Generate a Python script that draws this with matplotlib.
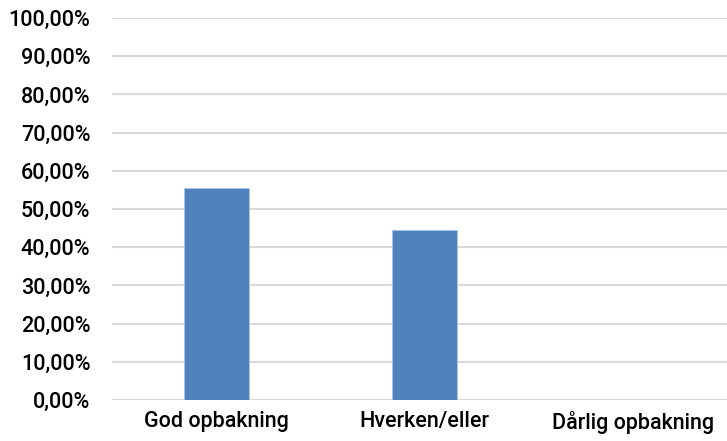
"""Bar chart: opbakning."""

import matplotlib
matplotlib.use("Agg")
import matplotlib.pyplot as plt
from matplotlib.ticker import FuncFormatter

categories = ["God opbakning", "Hverken/eller", "Dårlig opbakning"]
values = [55.56, 44.44, 0.0]
yticks = [0, 10, 20, 30, 40, 50, 60, 70, 80, 90, 100]

plt.rcParams["font.family"] = ["Roboto", "DejaVu Sans"]

fig = plt.figure(figsize=(7.27, 4.41), dpi=100)
ax = fig.add_axes([112.5 / 727, 1 - 400 / 441, 624 / 727, 382 / 441])

x = range(len(categories))
ax.bar(x, values, width=0.31, color="#4f81bd", edgecolor="#a9c4e6", linewidth=0.6, zorder=3)

ax.set_xlim(-0.5, 2.5)
ax.set_ylim(0, 100)
ax.set_yticks(yticks)
ax.yaxis.set_major_formatter(FuncFormatter(lambda v, p: f"{v:.2f}%".replace(".", ",")))
ax.set_xticks(list(x))
ax.set_xticklabels(categories)

ax.grid(axis="y", color="#d9d9d9", linewidth=1.5, zorder=0)
for s in ax.spines.values():
    s.set_visible(False)
ax.tick_params(axis="both", length=0, labelsize=15.5, colors="black")
ax.tick_params(axis="y", pad=16)
ax.tick_params(axis="x", pad=8)
for lbl in ax.get_xticklabels() + ax.get_yticklabels():
    lbl.set_fontweight("medium")

fig.savefig("out.png", dpi=100)
plt.close(fig)
